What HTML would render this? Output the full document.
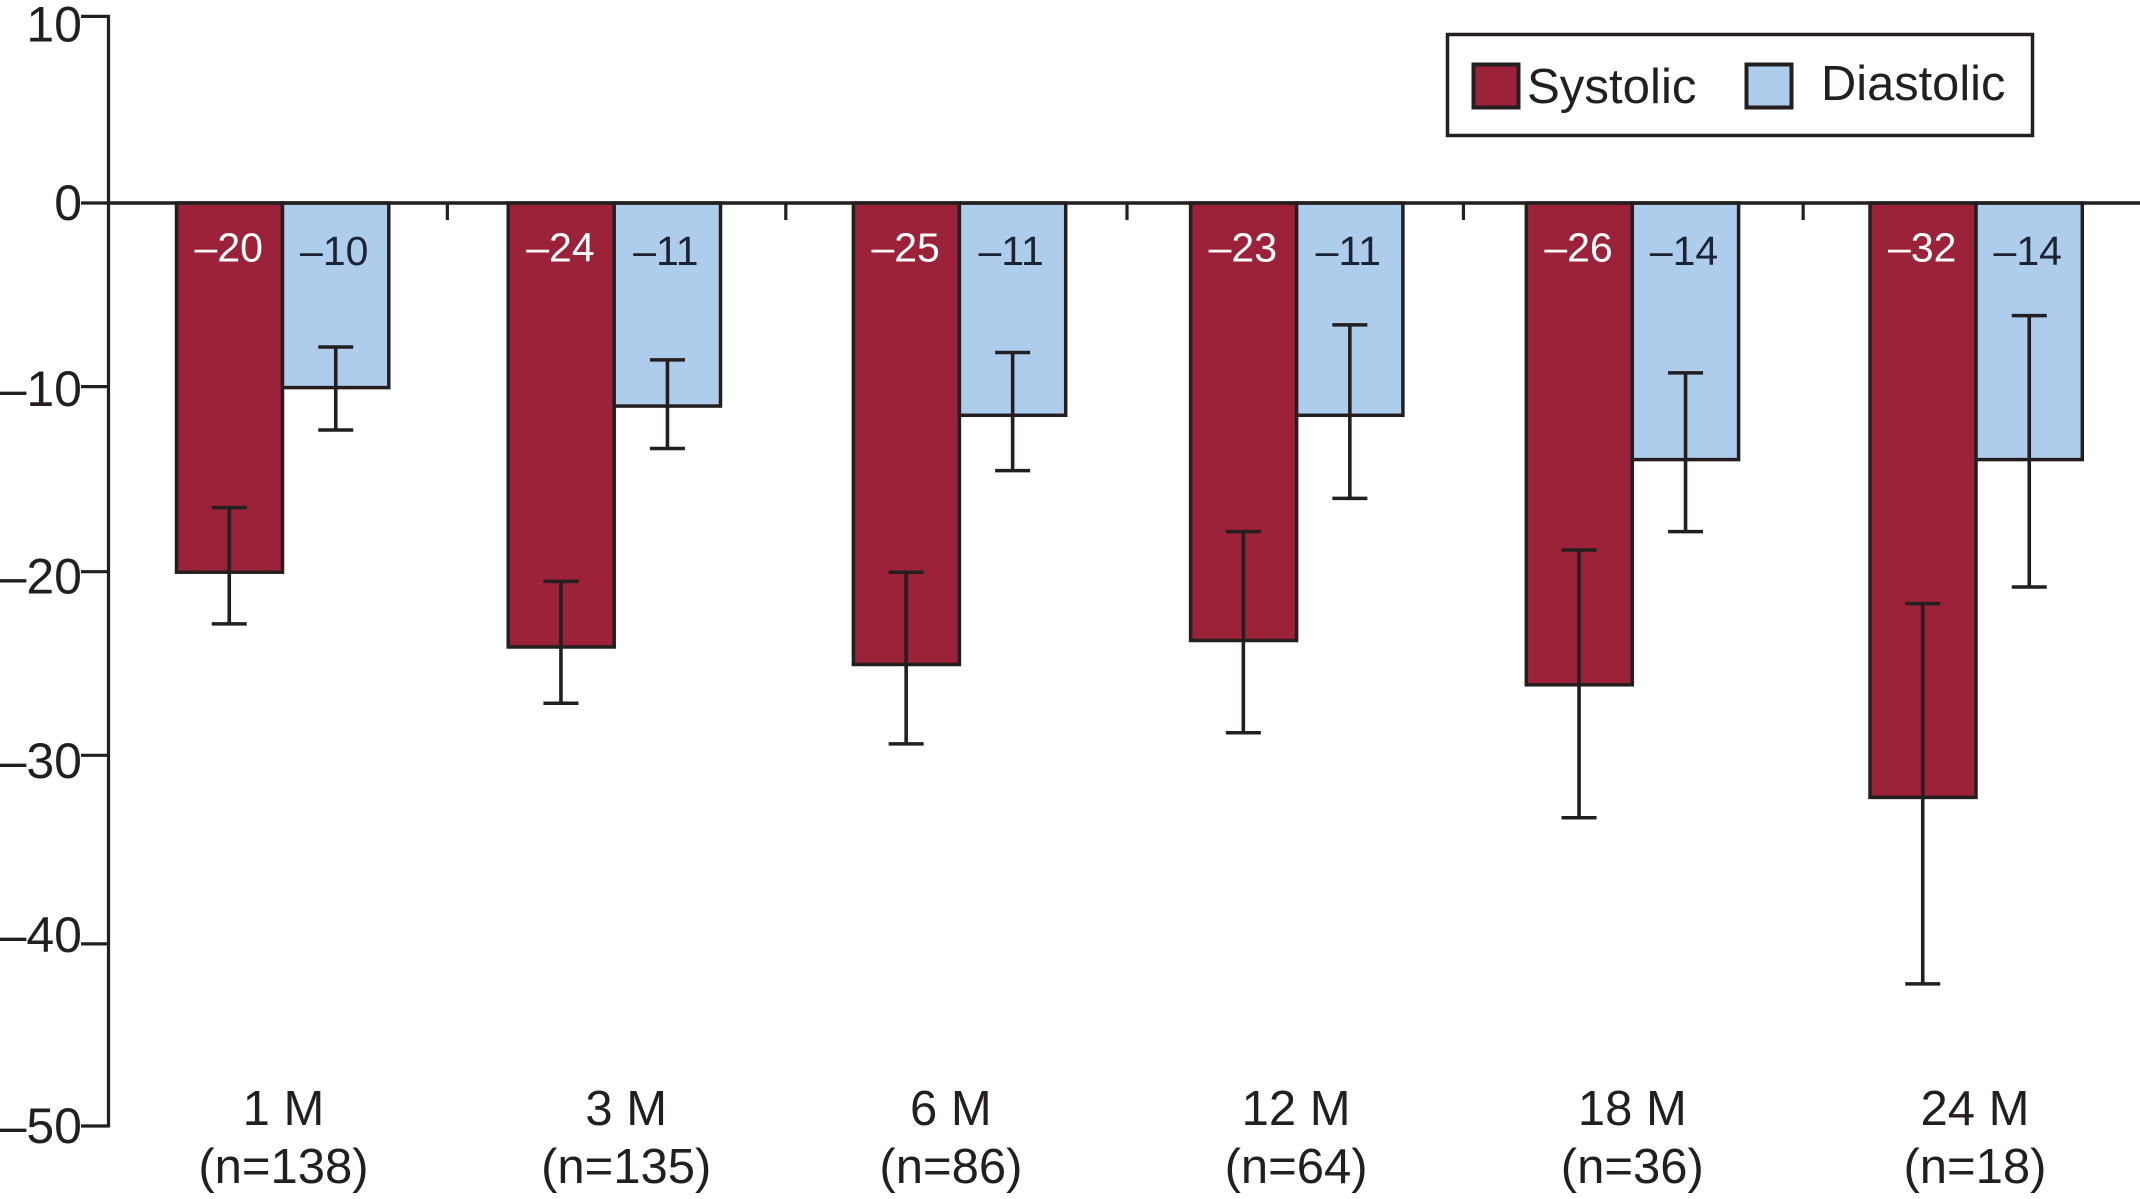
<!DOCTYPE html>
<html lang="en">
<head>
<meta charset="utf-8">
<title>Blood pressure change by follow-up</title>
<style>
html,body{margin:0;padding:0;background:#fff;width:2140px;height:1199px;overflow:hidden}
svg{display:block;font-family:"Liberation Sans",sans-serif}
</style>
</head>
<body>
<svg id="chart" xmlns="http://www.w3.org/2000/svg" width="2140" height="1199" viewBox="0 0 2140 1199">
<rect x="0" y="0" width="2140" height="1199" fill="#ffffff"/>
<g id="marks"></g>
<g>
<rect x="1447.5" y="34.5" width="585" height="101" fill="#ffffff" stroke="#231f20" stroke-width="3.5"/>
<rect x="1473.5" y="64.5" width="45" height="43" fill="#9b2239" stroke="#231f20" stroke-width="4"/>
<text x="1527" y="103" font-size="49.2" fill="#231f20">Systolic</text>
<rect x="1746.5" y="64.5" width="45" height="43" fill="#aecdec" stroke="#231f20" stroke-width="4"/>
<text x="1821" y="100" font-size="48.8" fill="#231f20">Diastolic</text>
</g>
</svg>
<script>
const categories = ['1 M', '3 M', '6 M', '12 M', '18 M', '24 M'];
const sampleSizes = ['(n=138)', '(n=135)', '(n=86)', '(n=64)', '(n=36)', '(n=18)'];
const systolic = [-20, -24.05, -25, -23.7, -26.1, -32.2];
const diastolic = [-10, -11, -11.5, -11.5, -13.9, -13.9];
const systolicErrHigh = [-16.5, -20.5, -20, -17.8, -18.8, -21.7];
const systolicErrLow = [-22.8, -27.1, -29.3, -28.7, -33.3, -42.3];
const diastolicErrHigh = [-7.8, -8.5, -8.1, -6.6, -9.2, -6.1];
const diastolicErrLow = [-12.3, -13.3, -14.5, -16, -17.8, -20.8];
const systolicLabels = ['–20', '–24', '–25', '–23', '–26', '–32'];
const diastolicLabels = ['–10', '–11', '–11', '–11', '–14', '–14'];
const yTicks = [10, 0, -10, -20, -30, -40, -50];
const yTickLabels = ['10', '0', '–10', '–20', '–30', '–40', '–50'];

const INK = '#231f20';
const svgNS = 'http://www.w3.org/2000/svg';
const root = document.getElementById('marks');

function y(v) { return 203 - v * 18.46; }
function groupX(i) {
  const nudge = [0, -7, -0.5, -2, -5, 0];
  return 282.5 + i * 338.7 + nudge[i];
}
function labelX(i) {
  const nudge = [1, 12, -8.5, -0.5, 0, -1];
  return groupX(i) + nudge[i];
}
function tickY(i) {
  const nudge = [-2, 0, -1, -0.5, -1.5, 2.5, 0];
  return y(yTicks[i]) + nudge[i];
}
function tickLabelY(i) {
  const offset = [23.3, 17, 18.4, 21.3, 21.2, 10.6, 17];
  return y(yTicks[i]) + offset[i];
}
const BAR_W = 106.5;

function make(tag, attrs, text) {
  const el = document.createElementNS(svgNS, tag);
  for (const k in attrs) el.setAttribute(k, attrs[k]);
  if (text !== undefined) el.textContent = text;
  root.appendChild(el);
  return el;
}
function line(x1, y1, x2, y2, w) {
  return make('line', { x1: x1, y1: y1, x2: x2, y2: y2, stroke: INK, 'stroke-width': w });
}

categories.forEach(function (cat, i) {
  const c = groupX(i);

  const sBar = make('rect', { x: c - BAR_W + 0.5, y: y(0), width: BAR_W - 0.5, height: y(systolic[i]) - y(0), fill: '#9b2239', stroke: INK, 'stroke-width': 3.5 });
  
  

  const dBar = make('rect', { x: c, y: y(0), width: BAR_W - 0.2, height: y(diastolic[i]) - y(0), fill: '#aecdec', stroke: INK, 'stroke-width': 3.5 });
  
  

  const sx = c - BAR_W / 2;
  const dx = c + BAR_W / 2;

  const sStem = line(sx, y(systolicErrHigh[i]), sx, y(systolicErrLow[i]), 3.6);
  
  
  const sCapA = line(sx - 17.5, y(systolicErrHigh[i]), sx + 17.5, y(systolicErrHigh[i]), 3.5);
  
  
  const sCapB = line(sx - 17.5, y(systolicErrLow[i]), sx + 17.5, y(systolicErrLow[i]), 3.5);
  
  

  const dStem = line(dx, y(diastolicErrHigh[i]), dx, y(diastolicErrLow[i]), 3.6);
  
  
  const dCapA = line(dx - 17.5, y(diastolicErrHigh[i]), dx + 17.5, y(diastolicErrHigh[i]), 3.5);
  
  
  const dCapB = line(dx - 17.5, y(diastolicErrLow[i]), dx + 17.5, y(diastolicErrLow[i]), 3.5);
  
  

  const sVal = make('text', { x: sx - 0.5, y: 261.5, 'font-size': 41, 'text-anchor': 'middle', fill: '#ffffff' }, systolicLabels[i]);
  
  

  const dVal = make('text', { x: dx - 1.5, y: 265, 'font-size': 41, 'text-anchor': 'middle', fill: '#1c2433' }, diastolicLabels[i]);
  
  

  const catLabel = make('text', { x: labelX(i), y: 1125, 'font-size': 49, 'text-anchor': 'middle', fill: INK }, cat);
  
  

  const nLabel = make('text', { x: labelX(i), y: 1183, 'font-size': 49, 'text-anchor': 'middle', fill: INK }, sampleSizes[i]);
  
  

  if (i < categories.length - 1) {
    const mid = (groupX(i) + groupX(i + 1)) / 2;
    const sep = line(mid - 1, y(0), mid - 1, y(0) + 17, 3.2);
    
    
  }
});

const zeroLine = line(108, y(0), 2140, y(0), 3.5);



const yAxis = line(108.5, tickY(0) - 1.5, 108.5, tickY(6) + 1.5, 3.2);



yTicks.forEach(function (t, i) {
  const tick = line(81, tickY(i), 108, tickY(i), 3.2);
  
  
  const lab = make('text', { x: 82, y: tickLabelY(i), 'font-size': 50, 'text-anchor': 'end', fill: INK }, yTickLabels[i]);
  
  
});
</script>
</body>
</html>
